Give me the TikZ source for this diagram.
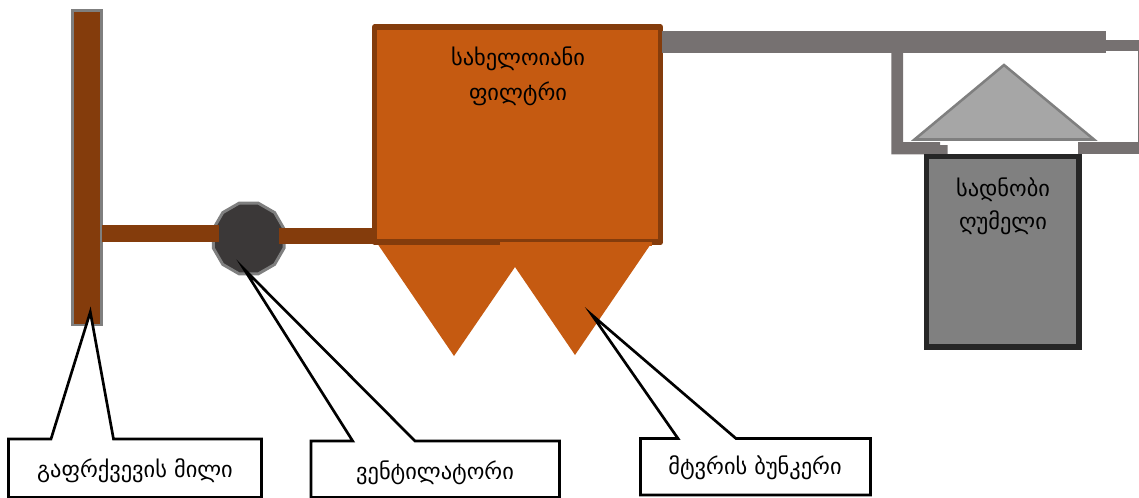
\documentclass[tikz,border=0pt]{standalone}
\usepackage{fontspec}
\setmainfont{DejaVu Sans}
\usetikzlibrary{shapes.geometric}
\definecolor{brown}{HTML}{843C0C}
\definecolor{rust}{HTML}{C55A11}
\definecolor{duct}{HTML}{767171}
\definecolor{edge}{HTML}{7F7F7F}
\definecolor{fan}{HTML}{3B3838}
\definecolor{roof}{HTML}{A6A6A6}
\definecolor{furn}{HTML}{808080}
\definecolor{furnedge}{HTML}{262626}
\tikzset{
  lbl/.style={font=\fontsize{16.8pt}{20pt}\selectfont,text=black,inner sep=0pt},
  callout/.style={draw=black,fill=white,line width=2pt,line join=miter,miter limit=20},
  ductg/.style={fill=duct,draw=none},
  ductb/.style={fill=brown,draw=none}
}
\begin{document}
\begin{tikzpicture}[x=0.75pt,y=-0.75pt]
\useasboundingbox (0,0) rectangle (1139,497);
% stack
\draw[draw=edge,fill=brown,line width=2.2pt] (72.5,10.5) rectangle (101.5,325);
% fan
\node[regular polygon,regular polygon sides=12,draw=edge,fill=fan,line width=2.2pt,minimum size=55pt,inner sep=0pt] (fanbody) at (248.7,238.5) {};
% ducts
\fill[ductb] (102,225) rectangle (219,241.5);
\fill[ductb] (279,228) rectangle (376,244);
% hopper
\fill[rust] (377,243) -- (454,356) -- (515,267) -- (575,355) -- (651.5,243) -- cycle;
% filter
\draw[draw=brown,fill=rust,line width=4.1pt,line join=round] (374.7,27.2) rectangle (660.5,242.2);
\fill[rust] (500,242) rectangle (651.5,245.5);
\fill[brown] (377,240) rectangle (499,243.5);
% grey duct
\fill[ductg] (662,31) rectangle (1106,53);
\fill[ductg] (1106,39.5) rectangle (1139,50.5);
\fill[ductg] (891.3,53) -- (903,53) -- (903,142) -- (940,142) -- (940,145) -- (947.7,145) -- (947.7,154.3) -- (891.3,154.3) -- cycle;
\fill[ductg] (1078,142) rectangle (1139,154);
\fill[ductg] (1137.6,50) rectangle (1139,143);
% roof
\draw[draw=edge,fill=roof,line width=1.9pt,line join=miter] (1004,65) -- (914.5,139.5) -- (1094,139.5) -- cycle;
% furnace
\draw[draw=furnedge,fill=furn,line width=4pt] (926.5,156.5) rectangle (1079,347);
% callouts
\draw[callout] (8.5,439) -- (51,439) -- (90.3,312) -- (113.5,439) -- (261.5,439) -- (261.5,497.5) -- (8.5,497.5) -- cycle;
\draw[callout] (311,441) -- (352.7,441) -- (244,269) -- (415,441) -- (559.5,441) -- (559.5,497.5) -- (311,497.5) -- cycle;
\draw[callout] (640.5,438.5) -- (678,438.5) -- (592,315) -- (736,438.5) -- (870.5,438.5) -- (870.5,495) -- (640.5,495) -- cycle;
% labels
\node[lbl] (t1) at (518,58.5) {სახელოიანი};
\node[lbl] (t2) at (518,93.5) {ფილტრი};
\node[lbl] (t3) at (1003,189.5) {სადნობი};
\node[lbl] (t4) at (1003,222.5) {ღუმელი};
\node[lbl] (t5) at (135,470.5) {გაფრქვევის მილი};
\node[lbl] (t6) at (435,473) {ვენტილატორი};
\node[lbl] (t7) at (755,468) {მტვრის ბუნკერი};
\end{tikzpicture}
\end{document}
